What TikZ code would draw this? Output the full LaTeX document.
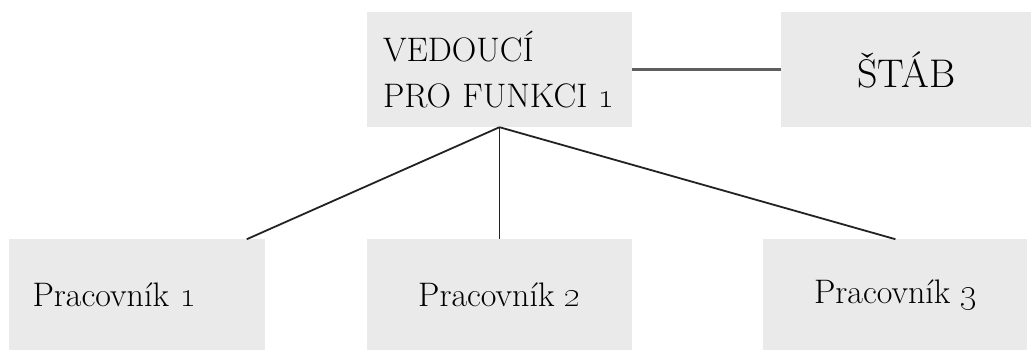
\documentclass[tikz,border=0pt]{standalone}
\usepackage{xcolor}
\usepackage{tikz}
\usetikzlibrary{positioning}
\definecolor{boxgrey}{HTML}{EAEAEA}
\definecolor{linegrey}{HTML}{5E5E5E}
\definecolor{inkdark}{HTML}{222222}
\tikzset{
  blk/.style={rectangle, fill=boxgrey, draw=none, inner sep=0pt,
              text=black, font=\fontsize{34}{46}\selectfont},
  tie/.style={line width=1.8pt, draw=inkdark},
  tieg/.style={line width=2.2pt, draw=linegrey},
}

\begin{document}
\begin{tikzpicture}[x=1pt, y=-1pt]
  \useasboundingbox (0,0) rectangle (1033,349);
  \node[blk, minimum width=265pt, minimum height=115pt, align=left,
        text width=233pt, inner xsep=16pt, font=\fontsize{34}{46}\selectfont]
       (ved) at (499.5,69.5) {VEDOUCÍ\\PRO FUNKCI \oldstylenums{1}};
  \node[blk, right=149pt of ved, minimum width=250pt, minimum height=115pt,
        font=\fontsize{40}{46}\selectfont] (stab) {ŠTÁB};
  \node[blk, below=112pt of ved, minimum width=265pt, minimum height=111pt]
       (p2) {Pracovník \oldstylenums{2}};
  \node[blk, left=102pt of p2, minimum width=256pt, minimum height=111pt,
        align=left, text width=208pt, inner xsep=24pt]
       (p1) {Pracovník \oldstylenums{1}};
  \node[blk, right=131pt of p2, minimum width=264pt, minimum height=111pt]
       (p3) {Pracovník \oldstylenums{3}};

  \draw[tieg] (ved) -- (stab);
  \draw[tie] (ved.south) -- ([xshift=-18pt]p1.north east);
  \draw[tie] (ved.south) -- (p2.north);
  \draw[tie] (ved.south) -- (p3.north);
\end{tikzpicture}
\end{document}
